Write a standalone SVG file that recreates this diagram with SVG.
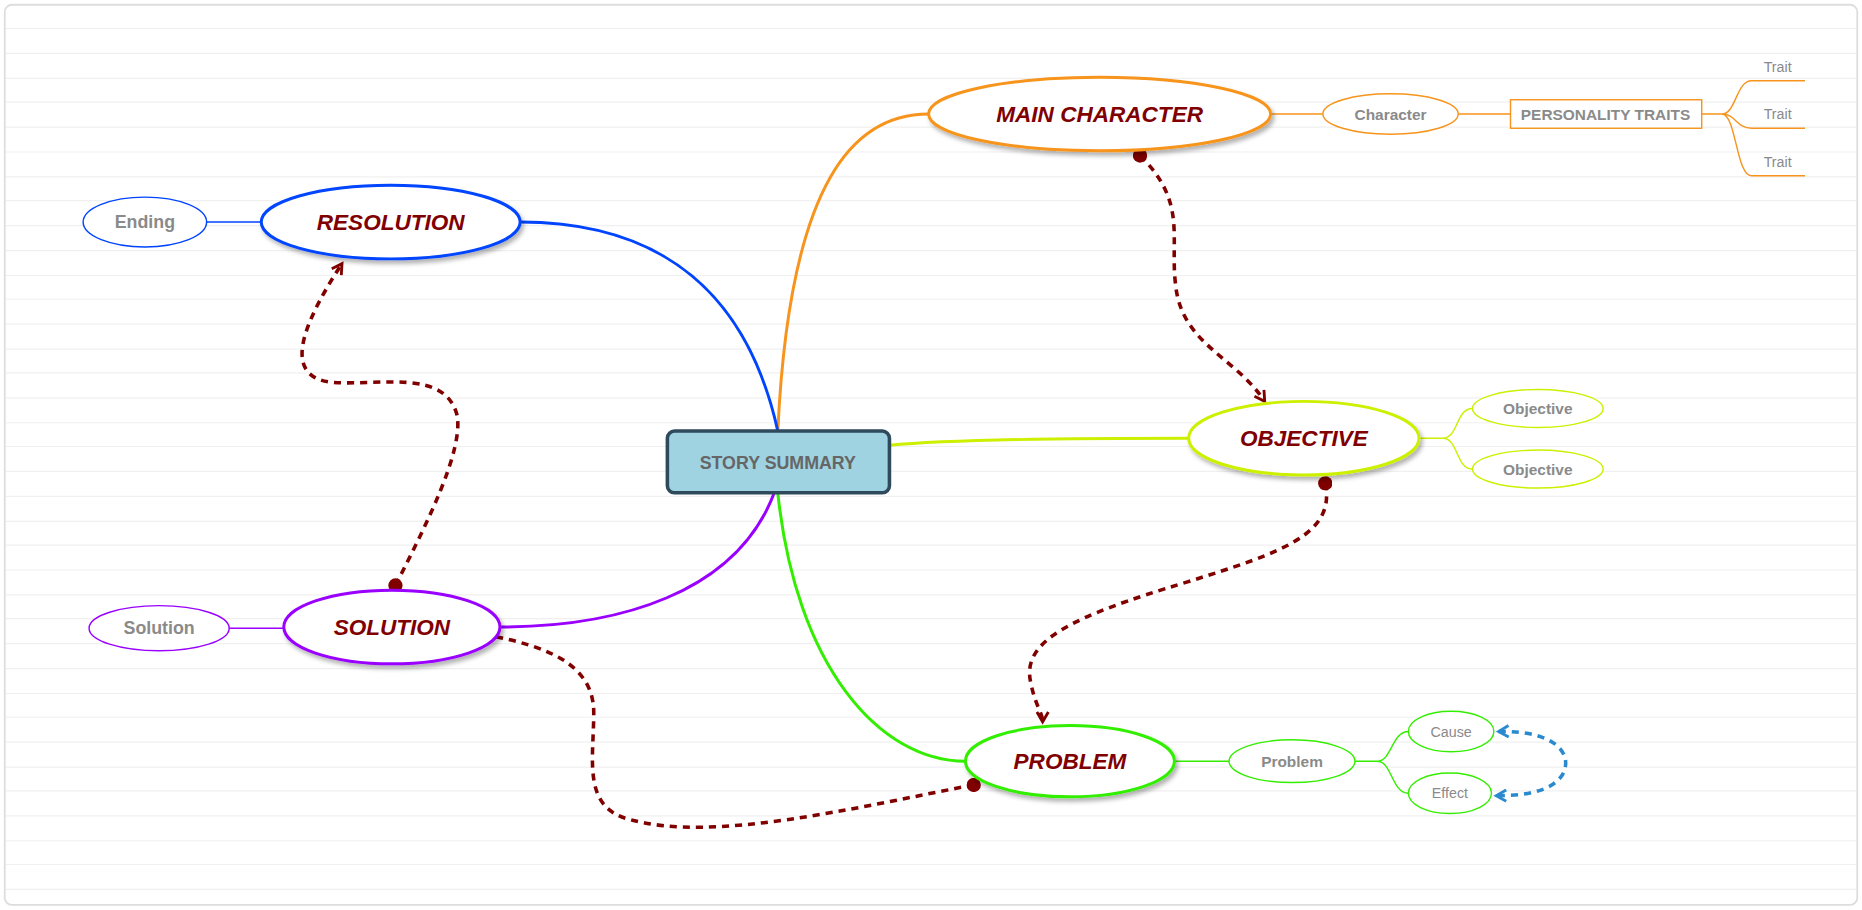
<svg xmlns="http://www.w3.org/2000/svg" width="1862" height="910" viewBox="0 0 1862 910">
<style>
.main{stroke-width:2.5;fill:#fff;filter:url(#sh)}
.mt{font-family:"Liberation Sans",Arial,sans-serif;font-size:19px;font-weight:bold;font-style:italic;fill:#800000;text-anchor:middle;dominant-baseline:central}
.st{font-family:"Liberation Sans",Arial,sans-serif;font-size:13px;font-weight:bold;fill:#8a8a8a;text-anchor:middle;dominant-baseline:central}
.tt{font-family:"Liberation Sans",Arial,sans-serif;font-size:12px;fill:#8a8a8a;text-anchor:middle;dominant-baseline:central}
.sub{fill:#fff;stroke-width:1.2}
.br{fill:none;stroke-width:2.5}
.thin{fill:none;stroke-width:1.2}
.rel{fill:none;stroke:#800000;stroke-width:3;stroke-dasharray:6 5;marker-start:url(#dot);marker-end:url(#arr)}
.grid line{stroke:#f0f0f0;stroke-width:1}
</style>
<defs>
<filter id="sh" x="-20%" y="-20%" width="140%" height="150%"><feDropShadow dx="2" dy="3" stdDeviation="2" flood-color="#000" flood-opacity="0.3"/></filter>
<marker id="dot" viewBox="0 0 10 10" refX="5" refY="5" markerWidth="4" markerHeight="4" markerUnits="strokeWidth"><circle cx="5" cy="5" r="5" fill="#800000"/></marker>
<marker id="arr" viewBox="0 0 10 10" refX="8" refY="5" markerWidth="4" markerHeight="4" markerUnits="strokeWidth" orient="auto"><path d="M1,1 L8,5 L1,9" fill="none" stroke="#800000" stroke-width="2"/></marker>
<marker id="barr" viewBox="0 0 10 10" refX="8" refY="5" markerWidth="4" markerHeight="4" markerUnits="strokeWidth" orient="auto-start-reverse"><path d="M1,1 L8,5 L1,9" fill="none" stroke="#2a8ad0" stroke-width="2"/></marker>
</defs>
<rect width="1862" height="910" fill="#fff"/>
<g transform="scale(1.1875)">
<g class="grid">
<line x1="5" y1="24" x2="1563" y2="24"/><line x1="5" y1="45" x2="1563" y2="45"/><line x1="5" y1="66" x2="1563" y2="66"/><line x1="5" y1="86" x2="1563" y2="86"/><line x1="5" y1="107" x2="1563" y2="107"/><line x1="5" y1="128" x2="1563" y2="128"/><line x1="5" y1="149" x2="1563" y2="149"/><line x1="5" y1="169" x2="1563" y2="169"/><line x1="5" y1="190" x2="1563" y2="190"/><line x1="5" y1="211" x2="1563" y2="211"/><line x1="5" y1="232" x2="1563" y2="232"/><line x1="5" y1="252" x2="1563" y2="252"/><line x1="5" y1="273" x2="1563" y2="273"/><line x1="5" y1="294" x2="1563" y2="294"/><line x1="5" y1="314" x2="1563" y2="314"/><line x1="5" y1="335" x2="1563" y2="335"/><line x1="5" y1="356" x2="1563" y2="356"/><line x1="5" y1="376" x2="1563" y2="376"/><line x1="5" y1="397" x2="1563" y2="397"/><line x1="5" y1="418" x2="1563" y2="418"/><line x1="5" y1="439" x2="1563" y2="439"/><line x1="5" y1="459" x2="1563" y2="459"/><line x1="5" y1="480" x2="1563" y2="480"/><line x1="5" y1="501" x2="1563" y2="501"/><line x1="5" y1="521" x2="1563" y2="521"/><line x1="5" y1="542" x2="1563" y2="542"/><line x1="5" y1="563" x2="1563" y2="563"/><line x1="5" y1="584" x2="1563" y2="584"/><line x1="5" y1="604" x2="1563" y2="604"/><line x1="5" y1="625" x2="1563" y2="625"/><line x1="5" y1="646" x2="1563" y2="646"/><line x1="5" y1="666" x2="1563" y2="666"/><line x1="5" y1="687" x2="1563" y2="687"/><line x1="5" y1="708" x2="1563" y2="708"/><line x1="5" y1="728" x2="1563" y2="728"/><line x1="5" y1="749" x2="1563" y2="749"/>
</g>
<rect x="4" y="4" width="1560" height="758" rx="6" fill="none" stroke="#ddd" stroke-width="1.5"/>
<g id="connectors">
<path class="br" stroke="#f7941d" d="M655,363 C665,150 720,96 782,96"/>
<path class="br" stroke="#0044ff" d="M655,363 C630,250 560,187 438,187"/>
<path class="br" stroke="#ccf000" stroke-width="2" d="M749,375 C800,370 900,369 1001,369"/>
<path class="br" stroke="#9900ff" d="M652,415 C620,500 520,528 421,528"/>
<path class="br" stroke="#33ee00" d="M655,415 C670,560 740,641 813,641"/>
<path class="thin" stroke="#0044ff" d="M219,187 H174"/>
<path class="thin" stroke="#9900ff" d="M239,529 H193"/>
<path class="thin" stroke="#f7941d" d="M1070,96 H1114 M1228,96 H1272 M1433,96 H1450 M1450,96 C1462,96 1462,68 1475,68 H1520 M1450,96 C1462,96 1462,108 1475,108 H1520 M1450,96 C1462,96 1462,148 1475,148 H1520"/>
<path class="thin" stroke="#ccf000" d="M1196,369 H1215 C1228,369 1226,344 1240,344 M1215,369 C1228,369 1226,395 1240,395"/>
<path class="thin" stroke="#33ee00" d="M989,641 H1035 M1141,641 H1160 C1172,641 1172,616 1186,616 M1160,641 C1172,641 1172,668 1186,668"/>
<path class="rel" d="M960,131 C1000,170 985,200 990,240 C995,290 1040,300 1065,338"/>
<path class="rel" d="M1116,407 C1125,450 1080,465 1000,490 C900,520 860,540 868,575 C872,595 878,600 878,608"/>
<path class="rel" d="M820,661 C720,680 600,710 530,690 C490,680 500,640 500,600 C500,550 440,540 390,531"/>
<path class="rel" d="M333,493 C360,440 390,380 385,350 C375,310 320,325 280,322 C240,318 250,280 288,222"/>
<path fill="none" stroke="#2a8ad0" stroke-width="3" stroke-dasharray="6 5" marker-start="url(#barr)" marker-end="url(#barr)" d="M1262,616 C1310,615 1325,635 1316,652 C1306,668 1280,670 1260,670"/>
</g>
<g id="center"><rect x="562" y="363" width="187" height="52" rx="6" fill="#9fd3e2" stroke="#2e4a5c" stroke-width="3"/><text x="655" y="390" class="st" style="font-size:15px;fill:#666">STORY SUMMARY</text></g>
<g id="main-character"><ellipse cx="926" cy="96" rx="144" ry="31" class="main" stroke="#f7941d"/><text x="926" y="96" class="mt">MAIN CHARACTER</text></g>
<g id="resolution"><ellipse cx="329" cy="187" rx="109" ry="31" class="main" stroke="#0044ff"/><text x="329" y="187" class="mt">RESOLUTION</text></g>
<g id="objective"><ellipse cx="1098" cy="369" rx="97" ry="31" class="main" stroke="#ccf000"/><text x="1098" y="369" class="mt">OBJECTIVE</text></g>
<g id="solution"><ellipse cx="330" cy="528" rx="91" ry="31" class="main" stroke="#9900ff"/><text x="330" y="528" class="mt">SOLUTION</text></g>
<g id="problem"><ellipse cx="901" cy="641" rx="88" ry="30" class="main" stroke="#33ee00"/><text x="901" y="641" class="mt">PROBLEM</text></g>
<g id="ending"><ellipse cx="122" cy="187" rx="52" ry="21" class="sub" stroke="#0044ff"/><text x="122" y="187" class="st" style="font-size:15px">Ending</text></g>
<g id="solution-sub"><ellipse cx="134" cy="529" rx="59" ry="19" class="sub" stroke="#9900ff"/><text x="134" y="529" class="st" style="font-size:15px">Solution</text></g>
<g id="character"><ellipse cx="1171" cy="96" rx="57" ry="17" class="sub" stroke="#f7941d"/><text x="1171" y="96" class="st">Character</text></g>
<g id="personality"><rect x="1272" y="84" width="161" height="24" class="sub" stroke="#f7941d"/><text x="1352" y="96" class="st">PERSONALITY TRAITS</text></g>
<g id="traits"><text x="1497" y="56" class="tt">Trait</text><text x="1497" y="96" class="tt">Trait</text><text x="1497" y="136" class="tt">Trait</text></g>
<g id="objective-1"><ellipse cx="1295" cy="344" rx="55" ry="16" class="sub" stroke="#ccf000"/><text x="1295" y="344" class="st">Objective</text></g>
<g id="objective-2"><ellipse cx="1295" cy="395" rx="55" ry="16" class="sub" stroke="#ccf000"/><text x="1295" y="395" class="st">Objective</text></g>
<g id="problem-sub"><ellipse cx="1088" cy="641" rx="53" ry="18" class="sub" stroke="#33ee00"/><text x="1088" y="641" class="st">Problem</text></g>
<g id="cause"><ellipse cx="1222" cy="616" rx="36" ry="17" class="sub" stroke="#33ee00"/><text x="1222" y="616" class="tt">Cause</text></g>
<g id="effect"><ellipse cx="1221" cy="668" rx="35" ry="17" class="sub" stroke="#33ee00"/><text x="1221" y="668" class="tt">Effect</text></g>
</g>
</svg>
